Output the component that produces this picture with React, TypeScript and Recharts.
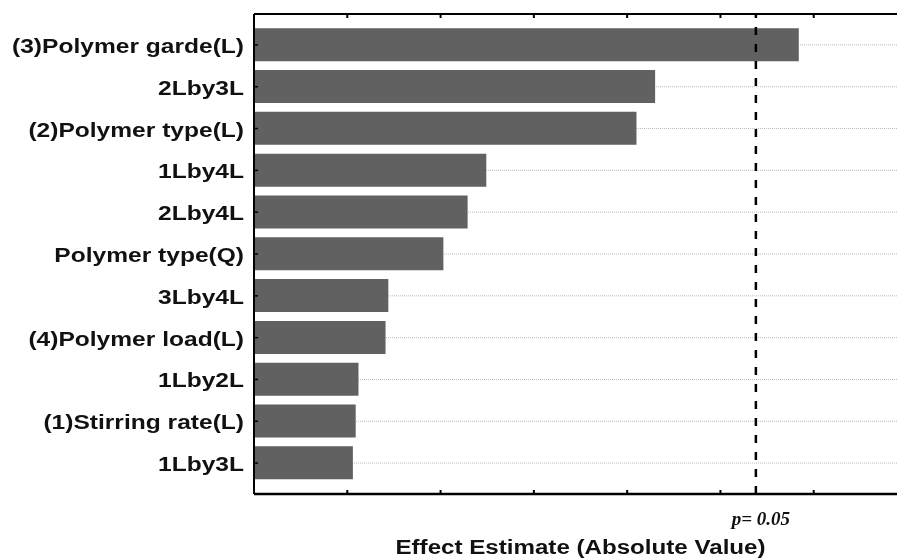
import React from 'react';
import { BarChart, Bar, XAxis, YAxis, CartesianGrid, ReferenceLine } from 'recharts';

const factors = [
  '(3)Polymer garde(L)',
  '2Lby3L',
  '(2)Polymer type(L)',
  '1Lby4L',
  '2Lby4L',
  'Polymer type(Q)',
  '3Lby4L',
  '(4)Polymer load(L)',
  '1Lby2L',
  '(1)Stirring rate(L)',
  '1Lby3L',
];
const effects = [5.84, 4.3, 4.1, 2.49, 2.29, 2.03, 1.44, 1.41, 1.12, 1.09, 1.06];
const xTicks = [0, 1, 2, 3, 4, 5, 6, 7];
const pValueLine = 5.38;
const pLabel = 'p= 0.05';
const xTitle = 'Effect Estimate (Absolute Value)';

const data = factors.map((name, i) => ({ name, value: effects[i] }));

const SANS = '"Liberation Sans", Arial, Helvetica, sans-serif';
const SERIF = '"Liberation Serif", "Times New Roman", serif';

const YTick = (props: any) => {
  const { x, y, payload } = props;
  return (
    <g transform={`translate(${x},${y})`}>
      <line x1={10} y1={0} x2={14} y2={0} stroke="#000" strokeWidth={1.5} />
      <g transform="scale(1.17,1)">
        <text x={0} y={8} textAnchor="end" fontFamily={SANS} fontWeight="bold" fontSize={21} fill="#111">
          {payload.value}
        </text>
      </g>
    </g>
  );
};

const BottomTick = (props: any) => {
  const { x, y } = props;
  return <line x1={x} y1={y} x2={x} y2={y - 4} stroke="#000" strokeWidth={2} />;
};

const TopTick = (props: any) => {
  const { x, y } = props;
  return <line x1={x} y1={y} x2={x} y2={y + 4} stroke="#000" strokeWidth={2} />;
};

const XTitle = (props: any) => {
  const vb = props.viewBox || {};
  const cx = vb.x + vb.width / 2;
  const cy = vb.y + 60;
  return (
    <g transform={`translate(${cx},${cy}) scale(1.15,1)`}>
      <text x={0} y={0} textAnchor="middle" fontFamily={SANS} fontWeight="bold" fontSize={21} fill="#111">
        {xTitle}
      </text>
    </g>
  );
};

const PLabel = (props: any) => {
  const vb = props.viewBox || {};
  return (
    <text
      x={vb.x + 5}
      y={vb.y + vb.height + 31}
      textAnchor="middle"
      fontFamily={SERIF}
      fontStyle="italic"
      fontWeight="bold"
      fontSize={19}
      fill="#111"
    >
      {pLabel}
    </text>
  );
};

export default function App() {
  return (
    <div style={{ position: 'fixed', left: 8, top: 8, width: 889, height: 551, overflow: 'hidden' }}>
      <BarChart
        width={899}
        height={551}
        data={data}
        layout="vertical"
        margin={{ top: 0, right: 0, bottom: 0, left: 0 }}
        barCategoryGap="10%"
      >
        <CartesianGrid horizontal vertical={false} stroke="#bdbdbd" strokeDasharray="1 1" />
        <XAxis
          type="number"
          xAxisId="top"
          orientation="top"
          domain={[0, 7]}
          ticks={xTicks}
          interval={0}
          height={6}
          tickSize={0}
          tickMargin={0}
          tickLine={false}
          tick={<TopTick />}
          axisLine={{ stroke: '#000', strokeWidth: 2 }}
          allowDataOverflow
        />
        <XAxis
          type="number"
          domain={[0, 7]}
          ticks={xTicks}
          interval={0}
          height={65}
          tickSize={0}
          tickMargin={0}
          tickLine={false}
          tick={<BottomTick />}
          axisLine={{ stroke: '#000', strokeWidth: 2.5 }}
          label={<XTitle />}
          allowDataOverflow
        />
        <YAxis
          type="category"
          dataKey="name"
          width={246}
          interval={0}
          tickSize={0}
          tickMargin={10}
          tickLine={false}
          tick={<YTick />}
          axisLine={{ stroke: '#000', strokeWidth: 2 }}
          padding={{ top: 10, bottom: 10 }}
        />
        <Bar dataKey="value" fill="#616161" isAnimationActive={false} />
        <ReferenceLine
          x={pValueLine}
          stroke="#000"
          strokeWidth={2.5}
          strokeDasharray="8 9"
          label={<PLabel />}
        />
      </BarChart>
    </div>
  );
}
